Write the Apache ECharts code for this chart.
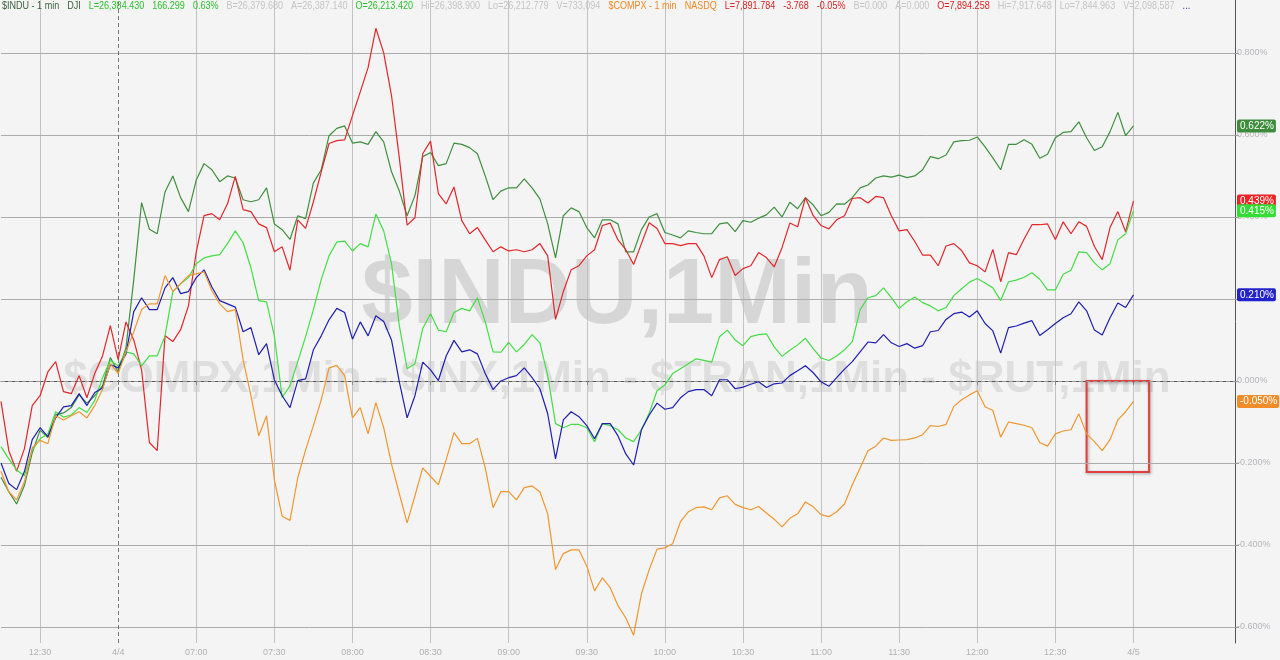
<!DOCTYPE html>
<html>
<head>
<meta charset="utf-8">
<script src="https://cdn.jsdelivr.net/npm/echarts@6/dist/echarts.min.js"></script>
<style>
html,body{margin:0;padding:0;background:#f4f4f4;}
#chart{width:1280px;height:660px;}
</style>
</head>
<body>
<div id="chart"></div>
<script>
// ---- data (percent change, one value every 3 minutes) ----
const seriesNames = ['$INDU', '$TRAN', '$RUT', '$INX', '$COMPX'];

const indu = [-0.235,-0.27,-0.30,-0.255,-0.175,-0.12,-0.138,-0.082,-0.078,-0.065,-0.034,-0.054,-0.036,-0.012,0.057,0.022,0.081,0.247,0.435,0.37,0.359,0.461,0.50,0.447,0.413,0.49,0.53,0.515,0.486,0.50,
0.495,0.442,0.437,0.442,0.471,0.383,0.369,0.345,0.403,0.396,0.483,0.515,0.598,0.616,0.622,0.58,0.583,0.577,0.608,0.583,0.51,0.463,0.403,0.452,0.547,0.557,0.525,0.53,0.58,
0.577,0.569,0.554,0.50,0.442,0.463,0.471,0.471,0.493,0.471,0.444,0.383,0.30,0.403,0.422,0.413,0.374,0.349,0.393,0.393,0.383,0.315,0.315,0.369,0.40,0.408,0.362,0.356,
0.349,0.366,0.362,0.359,0.359,0.383,0.386,0.364,0.391,0.387,0.397,0.405,0.424,0.40,0.436,0.42,0.447,0.429,0.403,0.411,0.432,0.431,0.447,0.471,0.478,0.495,0.50,0.497,0.502,
0.496,0.50,0.515,0.547,0.542,0.551,0.583,0.586,0.587,0.595,0.571,0.544,0.515,0.577,0.577,0.588,0.577,0.543,0.553,0.593,0.606,0.608,0.632,0.593,0.562,0.571,0.608,0.655,0.598,0.622];

const tran = [-0.05,-0.17,-0.22,-0.165,-0.06,-0.036,0.022,0.047,-0.026,-0.031,0.013,-0.041,0.018,0.061,0.135,0.052,0.144,0.10,0.027,-0.15,-0.17,0.11,0.096,0.125,0.183,0.315,0.403,0.408,0.393,0.432,
0.499,0.418,0.413,0.383,0.374,0.315,0.327,0.27,0.393,0.372,0.437,0.51,0.579,0.586,0.588,0.647,0.705,0.764,0.86,0.80,0.696,0.544,0.38,0.398,0.554,0.585,0.457,0.432,0.473,
0.391,0.359,0.374,0.344,0.315,0.327,0.317,0.32,0.315,0.32,0.335,0.305,0.15,0.218,0.271,0.281,0.305,0.32,0.379,0.385,0.344,0.32,0.284,0.335,0.386,0.372,0.335,0.335,
0.33,0.335,0.335,0.305,0.252,0.296,0.303,0.257,0.274,0.281,0.313,0.301,0.278,0.325,0.385,0.376,0.447,0.403,0.379,0.371,0.393,0.403,0.445,0.447,0.434,0.45,0.447,0.403,0.366,
0.369,0.34,0.307,0.307,0.281,0.329,0.335,0.318,0.288,0.281,0.266,0.321,0.242,0.313,0.308,0.346,0.381,0.381,0.383,0.345,0.388,0.359,0.388,0.377,0.328,0.296,0.374,0.413,0.364,0.439];

const rut = [-0.16,-0.19,-0.217,-0.231,-0.168,-0.141,-0.129,-0.075,-0.088,-0.083,-0.065,-0.077,-0.048,0.008,0.05,0.037,0.071,0.066,0.037,0.061,0.061,0.11,0.218,0.237,0.252,0.286,0.30,0.305,0.308,0.335,
0.366,0.337,0.276,0.196,0.193,0.11,-0.04,-0.012,0.047,0.108,0.174,0.247,0.305,0.339,0.341,0.317,0.335,0.327,0.407,0.366,0.286,0.135,0.03,0.042,0.128,0.164,0.124,0.12,0.167,
0.177,0.171,0.203,0.144,0.071,0.07,0.094,0.071,0.089,0.113,0.093,0.013,-0.104,-0.114,-0.106,-0.106,-0.114,-0.148,-0.104,-0.109,-0.119,-0.139,-0.148,-0.119,-0.078,-0.024,-0.01,0.018,
0.03,0.042,0.054,0.05,0.046,0.108,0.124,0.10,0.086,0.108,0.113,0.115,0.083,0.06,0.075,0.088,0.104,0.079,0.056,0.05,0.061,0.076,0.096,0.174,0.203,0.208,0.227,0.203,0.177,
0.193,0.205,0.191,0.183,0.171,0.179,0.208,0.225,0.241,0.25,0.239,0.227,0.196,0.242,0.246,0.253,0.264,0.248,0.222,0.222,0.26,0.27,0.315,0.313,0.288,0.271,0.286,0.344,0.359,0.415];

const inx = [-0.20,-0.25,-0.265,-0.221,-0.143,-0.114,-0.136,-0.09,-0.063,-0.06,-0.031,-0.06,-0.028,-0.017,0.04,0.032,0.066,0.169,0.203,0.174,0.174,0.227,0.252,0.213,0.218,0.252,0.271,0.229,0.196,0.188,
0.18,0.12,0.13,0.064,0.091,0.003,-0.036,-0.065,0.001,0.005,0.076,0.11,0.149,0.177,0.167,0.102,0.144,0.11,0.159,0.145,0.10,-0.002,-0.09,-0.036,0.046,0.027,0.001,0.061,0.099,
0.071,0.076,0.066,0.018,-0.021,0.0,0.008,0.013,0.032,0.008,-0.019,-0.08,-0.19,-0.095,-0.075,-0.087,-0.109,-0.141,-0.104,-0.104,-0.134,-0.178,-0.205,-0.119,-0.083,-0.054,-0.069,-0.065,
-0.041,-0.026,-0.021,-0.021,-0.036,0.003,0.003,-0.019,-0.015,-0.008,-0.002,-0.016,-0.007,-0.005,0.013,0.025,0.037,0.02,-0.002,-0.013,0.008,0.029,0.047,0.071,0.095,0.093,0.113,0.093,0.084,
0.091,0.08,0.086,0.12,0.123,0.15,0.164,0.168,0.156,0.171,0.14,0.122,0.068,0.13,0.134,0.141,0.147,0.111,0.125,0.14,0.154,0.164,0.193,0.171,0.124,0.112,0.154,0.19,0.179,0.21];

const compx = [-0.22,-0.27,-0.29,-0.246,-0.163,-0.145,-0.153,-0.085,-0.095,-0.085,-0.075,-0.09,-0.06,-0.021,0.042,0.018,0.071,0.12,0.174,0.188,0.188,0.257,0.218,0.237,0.257,0.261,0.266,0.22,0.188,0.169,
0.174,0.052,-0.036,-0.134,-0.085,-0.241,-0.33,-0.34,-0.236,-0.168,-0.109,-0.046,0.032,0.038,0.013,-0.09,-0.065,-0.129,-0.053,-0.114,-0.202,-0.275,-0.346,-0.28,-0.212,-0.233,-0.253,-0.192,-0.126,
-0.153,-0.153,-0.14,-0.212,-0.309,-0.27,-0.27,-0.29,-0.26,-0.256,-0.27,-0.324,-0.46,-0.421,-0.412,-0.412,-0.451,-0.512,-0.48,-0.504,-0.548,-0.578,-0.62,-0.519,-0.46,-0.41,-0.407,-0.397,
-0.343,-0.319,-0.309,-0.307,-0.314,-0.285,-0.28,-0.301,-0.309,-0.314,-0.306,-0.322,-0.337,-0.356,-0.335,-0.324,-0.295,-0.307,-0.326,-0.331,-0.319,-0.30,-0.253,-0.212,-0.17,-0.159,-0.139,-0.145,-0.144,
-0.143,-0.139,-0.131,-0.109,-0.111,-0.106,-0.062,-0.046,-0.034,-0.024,-0.063,-0.072,-0.137,-0.10,-0.104,-0.108,-0.114,-0.15,-0.159,-0.129,-0.122,-0.119,-0.08,-0.129,-0.148,-0.17,-0.143,-0.095,-0.075,-0.05];

const yTicks = [-0.6, -0.4, -0.2, 0, 0.2, 0.4, 0.6, 0.8];
const xTickLabels = ['12:30','4/4','07:00','07:30','08:00','08:30','09:00','09:30','10:00','10:30','11:00','11:30','12:00','12:30','4/5'];

// header quote line: [text, colour]
const headerItems = [
  ['$INDU - 1 min', '#3b5f3b'], ['DJI', '#3b5f3b'], ['L=26,384.430', '#2bc22b'], ['166.299', '#2bc22b'], ['0.63%', '#2bc22b'],
  ['B=26,379.680', '#c4c4c4'], ['A=26,387.140', '#c4c4c4'], ['O=26,213.420', '#2bc22b'], ['Hi=26,398.900', '#c4c4c4'],
  ['Lo=26,212.779', '#c4c4c4'], ['V=733,094', '#c4c4c4'],
  ['$COMPX - 1 min', '#f08a24'], ['NASDQ', '#f08a24'], ['L=7,891.784', '#dd2222'], ['-3.768', '#dd2222'], ['-0.05%', '#dd2222'],
  ['B=0.000', '#c4c4c4'], ['A=0.000', '#c4c4c4'], ['O=7,894.258', '#dd2222'], ['Hi=7,917.648', '#c4c4c4'],
  ['Lo=7,844.963', '#c4c4c4'], ['V=2,098,587', '#c4c4c4'], ['...', '#2233cc']
];

// categories: 3-minute steps, last 45 min of 4/3, session of 4/4 (PT), start of 4/5
function hhmm(t){ const h=Math.floor(t/60), m=t%60; return (h<10?'0':'')+h+':'+(m<10?'0':'')+m; }
const categories = [];
for (let i = 0; i < 159; i++) {
  const m = 3 * i;
  if (m < 45) categories.push('4/3 ' + hhmm(12*60 + 15 + m));
  else if (m < 435) categories.push('4/4 ' + hhmm(6*60 + 30 + (m - 45)));
  else categories.push('4/5 ' + hhmm(6*60 + 30 + (m - 435)));
}

const colors = {'$INDU':'#3f8f3f', '$TRAN':'#e3262a', '$RUT':'#44dd44', '$INX':'#1e1eb0', '$COMPX':'#f0962f'};
const tagColors = {'$INDU':'#3c8c3c', '$TRAN':'#ee2222', '$RUT':'#33dd33', '$INX':'#2222cc', '$COMPX':'#f28c28'};
const values = {'$INDU':indu, '$TRAN':tran, '$RUT':rut, '$INX':inx, '$COMPX':compx};

function isTick(idx){ return idx >= 5 && idx <= 145 && (idx - 5) % 10 === 0; }

const FONT = "'Liberation Sans', Arial, sans-serif";

const chart = echarts.init(document.getElementById('chart'), null, {renderer:'canvas'});

const dataSeries = seriesNames.map(function(name){
  const arr = values[name];
  const s = {
    name: name,
    type: 'line',
    data: arr,
    showSymbol: false,
    symbol: 'none',
    z: 5,
    lineStyle: {color: colors[name], width: 1.2},
    itemStyle: {color: colors[name]},
    markLine: {
      silent: true,
      symbol: 'none',
      precision: 3,
      z: 20,
      lineStyle: {color: 'rgba(0,0,0,0)', width: 1, type: 'solid'},
      label: {
        show: true,
        position: 'end',
        distance: 2,
        formatter: function(p){ return Number(p.value).toFixed(3) + '%'; },
        color: '#ffffff',
        fontSize: 10,
        fontFamily: FONT,
        backgroundColor: tagColors[name],
        padding: [2, 2, 1, 3],
        borderRadius: 2
      },
      data: [{yAxis: arr[arr.length - 1]}]
    }
  };
  if (name === '$COMPX') {
    s.markArea = {
      silent: true,
      itemStyle: {color: 'rgba(0,0,0,0)', borderColor: '#e04040', borderWidth: 2, shadowBlur: 3, shadowColor: 'rgba(0,0,0,0.35)', shadowOffsetX: 1, shadowOffsetY: 1},
      data: [[{xAxis: categories[139], yAxis: 0}, {xAxis: categories[147], yAxis: -0.222}]]
    };
  }
  return s;
});

// helper series that carries the horizontal grid lines and the session divider
const gridSeries = {
  name: 'grid',
  type: 'line',
  data: indu,
  showSymbol: false,
  symbol: 'none',
  silent: true,
  z: 1,
  lineStyle: {opacity: 0},
  markLine: {
    silent: true,
    symbol: 'none',
    label: {show: false},
    data: yTicks.map(function(v){
      return {yAxis: v, lineStyle: v === 0 ? {color:'#9a9a9a', type:[4,3], width:1} : {color:'#ababab', type:'solid', width:1}};
    }).concat([{xAxis: categories[15], lineStyle: {color:'#777777', type:[4,3], width:1}}])
  }
};

const graphics = [
  {type:'text', z:-10, silent:true,
   style:{text:'$INDU,1Min', x:617, y:298, fontSize:92, fontWeight:'bold', fontFamily:FONT, fill:'rgba(0,0,0,0.12)', textAlign:'center', textVerticalAlign:'middle'}},
  {type:'text', z:-10, silent:true,
   style:{text:'$COMPX,1Min - $INX,1Min - $TRAN,1Min - $RUT,1Min', x:617, y:380, fontSize:44, fontWeight:'bold', fontFamily:FONT, fill:'rgba(0,0,0,0.09)', textAlign:'center', textVerticalAlign:'middle'}}
];

// header laid out left to right, condensed text (horizontal scale emulates the narrow terminal font)
(function(){
  const HS = 10.5, SX = 0.86, GAP = 8;
  const ctx = document.createElement('canvas').getContext('2d');
  ctx.font = HS + "px 'Liberation Sans', Arial, sans-serif";
  let x = 2;
  headerItems.forEach(function(h){
    graphics.push({type:'text', z:100, silent:true, x:x, y:6, scaleX:SX, scaleY:1,
      style:{text:h[0], x:0, y:0, fontSize:HS, fontFamily:FONT, fill:h[1], textVerticalAlign:'middle'}});
    x += ctx.measureText(h[0]).width * SX + GAP;
  });
})();

chart.setOption({
  animation: false,
  backgroundColor: '#f4f4f4',
  grid: {left: 1, right: 45, top: 0, bottom: 17, containLabel: false},
  graphic: {elements: graphics},
  xAxis: {
    type: 'category',
    data: categories,
    boundaryGap: false,
    axisLine: {show: true, lineStyle: {color: '#555555', width: 1}},
    axisTick: {show: true, interval: function(i){ return isTick(i); }, length: 4, lineStyle: {color: '#888888'}},
    axisLabel: {
      interval: function(i){ return isTick(i); },
      formatter: function(v, i){ return xTickLabels[(i - 5) / 10]; },
      color: '#b0b0b0', fontSize: 9, margin: 5, fontFamily: FONT
    },
    splitLine: {show: true, interval: function(i){ return isTick(i) && i !== 15; }, lineStyle: {color: '#c2c2c2', width: 1}}
  },
  yAxis: {
    type: 'value',
    position: 'right',
    min: -0.639,
    max: 0.929,
    axisLine: {show: true, lineStyle: {color: '#555555', width: 1}},
    axisTick: {show: true, customValues: yTicks, length: 4, lineStyle: {color: '#999999'}},
    axisLabel: {customValues: yTicks, color: '#b5b5bb', fontSize: 9, margin: 2, fontFamily: FONT,
      formatter: function(v){ return v.toFixed(3) + '%'; }},
    splitLine: {show: false}
  },
  series: [gridSeries].concat(dataSeries)
});
</script>
</body>
</html>
